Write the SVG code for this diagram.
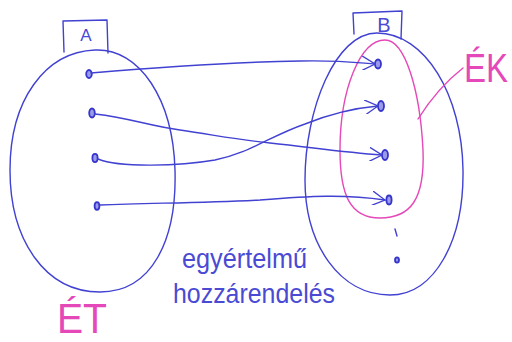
<svg xmlns="http://www.w3.org/2000/svg" width="512" height="342" viewBox="0 0 512 342">
<style>
.ink{fill:none;stroke:#4141d2;stroke-width:1.4;stroke-linecap:round;stroke-linejoin:round}
.pink{fill:none;stroke:#e548b8;stroke-width:1.4;stroke-linecap:round;stroke-linejoin:round}
.dot{fill:#9a9ae8;stroke:#3535cc;stroke-width:1.8}
.hb{font-family:"Liberation Sans",sans-serif;fill:#4a4ad4}
.hp{font-family:"Liberation Sans",sans-serif;fill:#e548b8;font-weight:normal}
</style>
<defs>
<marker id="arr" viewBox="0 0 14 14" refX="13" refY="7" markerWidth="14" markerHeight="14" markerUnits="userSpaceOnUse" orient="auto">
<path d="M0,0 L13,7 L1,14" fill="none" stroke="#4141d2" stroke-width="1.3" stroke-linecap="round"/>
</marker>
</defs>
<rect width="512" height="342" fill="#ffffff"/>

<g id="setA">
<path class="ink" d="M95,50 C140,48 173,100 175,170 C177,240 152,292 100,292 C45,292 10,240 10,170 C10,100 45,52 95,50 Z"/>
<path class="ink" d="M64,52 L63,21 L107,20 L108,53"/>
<text class="hb" x="86" y="41" font-size="17" text-anchor="middle" font-weight="normal">A</text>
<ellipse class="dot" cx="89" cy="74" rx="2.8" ry="4"/>
<ellipse class="dot" cx="92" cy="113" rx="2.8" ry="4.5"/>
<ellipse class="dot" cx="95" cy="158" rx="2.6" ry="4.2"/>
<ellipse class="dot" cx="97" cy="206" rx="2.4" ry="3.8"/>
</g>

<g id="setB">
<path class="ink" d="M377,33 C425,33 462,95 463,170 C464,240 435,295 390,295 C340,295 305,245 305,180 C305,110 335,33 377,33 Z"/>
<path class="ink" d="M354,34 L353,13 L402,11 L401,39"/>
<text class="hb" x="384" y="32" font-size="20" text-anchor="middle">B</text>
<ellipse class="dot" cx="378" cy="64" rx="3" ry="4.5"/>
<ellipse class="dot" cx="381" cy="106" rx="3" ry="5"/>
<ellipse class="dot" cx="385" cy="155" rx="3" ry="5"/>
<ellipse class="dot" cx="389" cy="200" rx="2.6" ry="4.5"/>
<path class="ink" d="M395,229 L397,236" stroke-width="2"/>
<ellipse class="dot" cx="397" cy="260" rx="2" ry="2.6"/>
</g>

<g id="EK">
<path class="pink" d="M385,40 C405,40 420,90 423,150 C425,200 410,218 380,218 C350,218 340,195 340,150 C340,90 360,40 385,40 Z"/>
<path class="pink" d="M418,119 C430,100 445,82 463,68"/>
<text class="hp" transform="translate(464,82) scale(1,1.25)" x="0" y="0" font-size="33">ÉK</text>
</g>

<g id="ET">
<text class="hp" x="57" y="333" font-size="42" textLength="50" lengthAdjust="spacingAndGlyphs">ÉT</text>
</g>

<g id="connectors">
<path class="ink" marker-end="url(#arr)" d="M91,73 C150,68 230,62 300,61 C340,60 360,63 375,64"/>
<path class="ink" marker-end="url(#arr)" d="M95,114 C130,118 150,126 180,130 C220,136 240,140 270,143 C310,147 340,152 382,155"/>
<path class="ink" marker-end="url(#arr)" d="M98,159 C120,168 180,166 215,160 C250,153 270,136 305,124 C330,114 355,108 378,106"/>
<path class="ink" marker-end="url(#arr)" d="M100,205 C150,203 200,203 260,200 C310,196 345,194 385,200"/>
</g>

<g id="caption">
<text class="hb" x="182" y="268" font-size="28" textLength="125" lengthAdjust="spacingAndGlyphs">egyértelmű</text>
<text class="hb" x="173" y="303" font-size="28" textLength="162" lengthAdjust="spacingAndGlyphs">hozzárendelés</text>
</g>
</svg>
